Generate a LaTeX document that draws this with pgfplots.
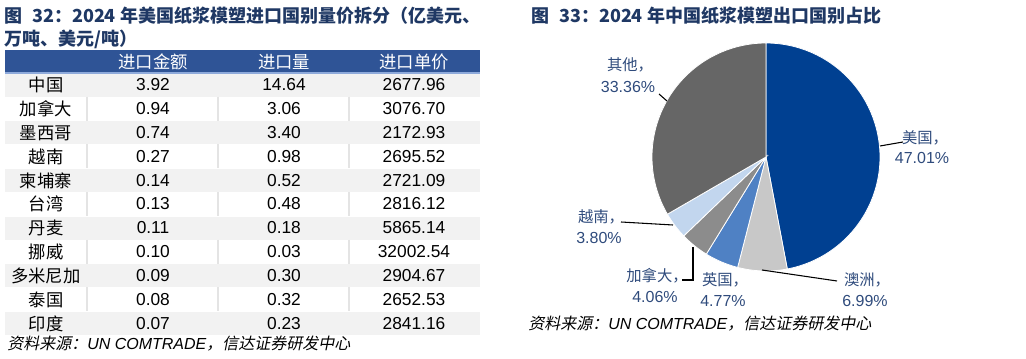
\documentclass[border=0pt]{standalone}
\usepackage{fontspec}
\setmainfont{Liberation Sans}
\newfontfamily\cjk{Noto Sans CJK SC}
\newfontfamily\cjkit{Noto Sans CJK SC}[FakeSlant=0.2]
\usepackage{pgfplots}
\usepackage{pgfplotstable}
\pgfplotsset{compat=1.18}

\definecolor{cHead}{RGB}{47,84,150}
\definecolor{cHeadLine}{RGB}{142,170,219}
\definecolor{cStripe}{RGB}{242,242,242}
\definecolor{cSep}{RGB}{228,228,228}
\definecolor{cTitle}{RGB}{31,56,100}
\definecolor{cLab}{RGB}{47,75,124}
\definecolor{cUS}{RGB}{0,64,145}
\definecolor{cAU}{RGB}{200,200,200}
\definecolor{cUK}{RGB}{79,129,196}
\definecolor{cCA}{RGB}{140,140,140}
\definecolor{cVN}{RGB}{194,214,238}
\definecolor{cOT}{RGB}{102,102,102}

% Table: US imports of moulded pulp by country, 2024
\pgfplotstableread[col sep=comma]{
r,name,amt,vol,price
0,中国,3.92,14.64,2677.96
1,加拿大,0.94,3.06,3076.70
2,墨西哥,0.74,3.40,2172.93
3,越南,0.27,0.98,2695.52
4,柬埔寨,0.14,0.52,2721.09
5,台湾,0.13,0.48,2816.12
6,丹麦,0.11,0.18,5865.14
7,挪威,0.10,0.03,32002.54
8,多米尼加,0.09,0.30,2904.67
9,泰国,0.08,0.32,2652.53
10,印度,0.07,0.23,2841.16
}\usdata

% Pie: China exports by destination, 2024 (%)
\def\pUS{47.01}
\def\pAU{6.99}
\def\pUK{4.77}
\def\pCA{4.06}
\def\pVN{3.80}
\def\pOT{33.36}
\pgfmathsetmacro\aA{90}
\pgfmathsetmacro\aB{\aA-3.6*\pUS}
\pgfmathsetmacro\aC{\aB-3.6*\pAU}
\pgfmathsetmacro\aD{\aC-3.6*\pUK}
\pgfmathsetmacro\aE{\aD-3.6*\pCA}
\pgfmathsetmacro\aF{\aE-3.6*\pVN}
\pgfmathsetmacro\aG{\aF-3.6*\pOT}

\def\cx{766}
\def\cy{157}
\def\R{114}

\begin{document}
\begin{tikzpicture}
\begin{axis}[at={(0pt,0pt)}, anchor=south west, scale only axis,
  width=769.5pt, height=269.25pt,
  xmin=0, xmax=1026, ymin=0, ymax=359, y dir=reverse,
  hide axis, clip=false]

% ---- titles ----
\node[anchor=west, text=cTitle, font=\cjk\bfseries\fontsize{13.5}{16}\selectfont, inner sep=0pt] at (axis cs:4,16) {图\hspace{0.55em}32：2024 年美国纸浆模塑进口国别量价拆分（亿美元、};
\node[anchor=west, text=cTitle, font=\cjk\bfseries\fontsize{13.5}{16}\selectfont, inner sep=0pt] at (axis cs:4,39) {万吨、美元/吨）};
\node[anchor=west, text=cTitle, font=\cjk\bfseries\fontsize{13.5}{16}\selectfont, inner sep=0pt] at (axis cs:531,16) {图\hspace{0.55em}33：2024 年中国纸浆模塑出口国别占比};

% ---- table background ----
\fill[cHead] (axis cs:5,50) rectangle (axis cs:480,73);
\draw[cHeadLine, line width=0.8pt] (axis cs:5,73) -- (axis cs:480,73);
\pgfplotsinvokeforeach{0,2,4,6,8,10}{
  \fill[cStripe] (axis cs:5,{73.6+23.82*#1}) rectangle (axis cs:480,{73+23.82*(#1+1)});
}
\pgfplotsinvokeforeach{1,3,5,7,9}{
  \draw[cSep, line width=0.8pt] (axis cs:87,{73+23.82*#1}) -- (axis cs:87,{73+23.82*(#1+1)});
  \draw[cSep, line width=0.8pt] (axis cs:218,{73+23.82*#1}) -- (axis cs:218,{73+23.82*(#1+1)});
  \draw[cSep, line width=0.8pt] (axis cs:349,{73+23.82*#1}) -- (axis cs:349,{73+23.82*(#1+1)});
}
\node[text=white, font=\cjk\fontsize{13}{15}\selectfont] at (axis cs:153,61.5) {进口金额};
\node[text=white, font=\cjk\fontsize{13}{15}\selectfont] at (axis cs:284,61.5) {进口量};
\node[text=white, font=\cjk\fontsize{13}{15}\selectfont] at (axis cs:414,61.5) {进口单价};

% ---- table values ----
\pgfplotsset{tabcol/.style={only marks, mark=none, nodes near coords, point meta=explicit symbolic,
  every node near coord/.append style={anchor=center, text=black, inner sep=0pt}}}
\addplot[tabcol, nodes near coords style={font=\cjk\fontsize{13}{15}\selectfont}]
  table[x expr=46, y expr=85.2+23.82*\thisrow{r}, meta=name] {\usdata};
\addplot[tabcol, nodes near coords style={font=\fontsize{13}{15}\selectfont}]
  table[x expr=153, y expr=84.9+23.82*\thisrow{r}, meta=amt] {\usdata};
\addplot[tabcol, nodes near coords style={font=\fontsize{13}{15}\selectfont}]
  table[x expr=284, y expr=84.9+23.82*\thisrow{r}, meta=vol] {\usdata};
\addplot[tabcol, nodes near coords style={font=\fontsize{13}{15}\selectfont}]
  table[x expr=414, y expr=84.9+23.82*\thisrow{r}, meta=price] {\usdata};

% ---- pie ----
\addplot[fill=cUS, draw=white, line width=0.6pt, domain=\aB:\aA, samples=120, variable=\t]
  ({\cx+\R*cos(\t)},{\cy-\R*sin(\t)}) -- (axis cs:\cx,\cy) -- cycle;
\addplot[fill=cAU, draw=white, line width=0.6pt, domain=\aC:\aB, samples=30, variable=\t]
  ({\cx+\R*cos(\t)},{\cy-\R*sin(\t)}) -- (axis cs:\cx,\cy) -- cycle;
\addplot[fill=cUK, draw=white, line width=0.6pt, domain=\aD:\aC, samples=30, variable=\t]
  ({\cx+\R*cos(\t)},{\cy-\R*sin(\t)}) -- (axis cs:\cx,\cy) -- cycle;
\addplot[fill=cCA, draw=white, line width=0.6pt, domain=\aE:\aD, samples=30, variable=\t]
  ({\cx+\R*cos(\t)},{\cy-\R*sin(\t)}) -- (axis cs:\cx,\cy) -- cycle;
\addplot[fill=cVN, draw=white, line width=0.6pt, domain=\aF:\aE, samples=30, variable=\t]
  ({\cx+\R*cos(\t)},{\cy-\R*sin(\t)}) -- (axis cs:\cx,\cy) -- cycle;
\addplot[fill=cOT, draw=white, line width=0.6pt, domain=\aG:\aF, samples=100, variable=\t]
  ({\cx+\R*cos(\t)},{\cy-\R*sin(\t)}) -- (axis cs:\cx,\cy) -- cycle;

% ---- leader lines ----
\draw[black, line width=0.8pt] (axis cs:659,94) -- (axis cs:667,101);
\draw[black, line width=0.8pt] (axis cs:880,146) -- (axis cs:903,142);
\draw[black, line width=0.8pt] (axis cs:621,222) -- (axis cs:673,225);
\draw[black, line width=0.8pt] (axis cs:682,280) -- (axis cs:693,280) -- (axis cs:693,247);
\draw[black, line width=0.8pt] (axis cs:762,270) -- (axis cs:837,281);

% ---- pie labels ----
\tikzset{plab/.style={text=cLab, font=\cjk\fontsize{11.5}{13}\selectfont, inner sep=0pt},
         pnum/.style={text=cLab, font=\fontsize{12}{14}\selectfont, inner sep=0pt}}
\node[plab] at (axis cs:630,65) {其他，};
\node[pnum] at (axis cs:628,87) {33.36\%};
\node[plab] at (axis cs:925,138) {美国，};
\node[pnum] at (axis cs:922,158) {47.01\%};
\node[plab] at (axis cs:601,217) {越南，};
\node[pnum] at (axis cs:599,238) {3.80\%};
\node[plab] at (axis cs:657,276) {加拿大，};
\node[pnum] at (axis cs:655,297) {4.06\%};
\node[plab] at (axis cs:725,280) {英国，};
\node[pnum] at (axis cs:723,301) {4.77\%};
\node[plab] at (axis cs:867,280) {澳洲，};
\node[pnum] at (axis cs:865,301) {6.99\%};

% ---- sources ----
\node[anchor=west, inner sep=0pt, font=\fontsize{12}{14}\selectfont] at (axis cs:7,344) {\cjkit 资料来源：\normalfont\itshape UN COMTRADE\cjkit ，信达证券研发中心};
\node[anchor=west, inner sep=0pt, font=\fontsize{12}{14}\selectfont] at (axis cs:528,324) {\cjkit 资料来源：\normalfont\itshape UN COMTRADE\cjkit ，信达证券研发中心};
\end{axis}
\path (0,0) rectangle (769.5pt,269.25pt);
\end{tikzpicture}
\end{document}
